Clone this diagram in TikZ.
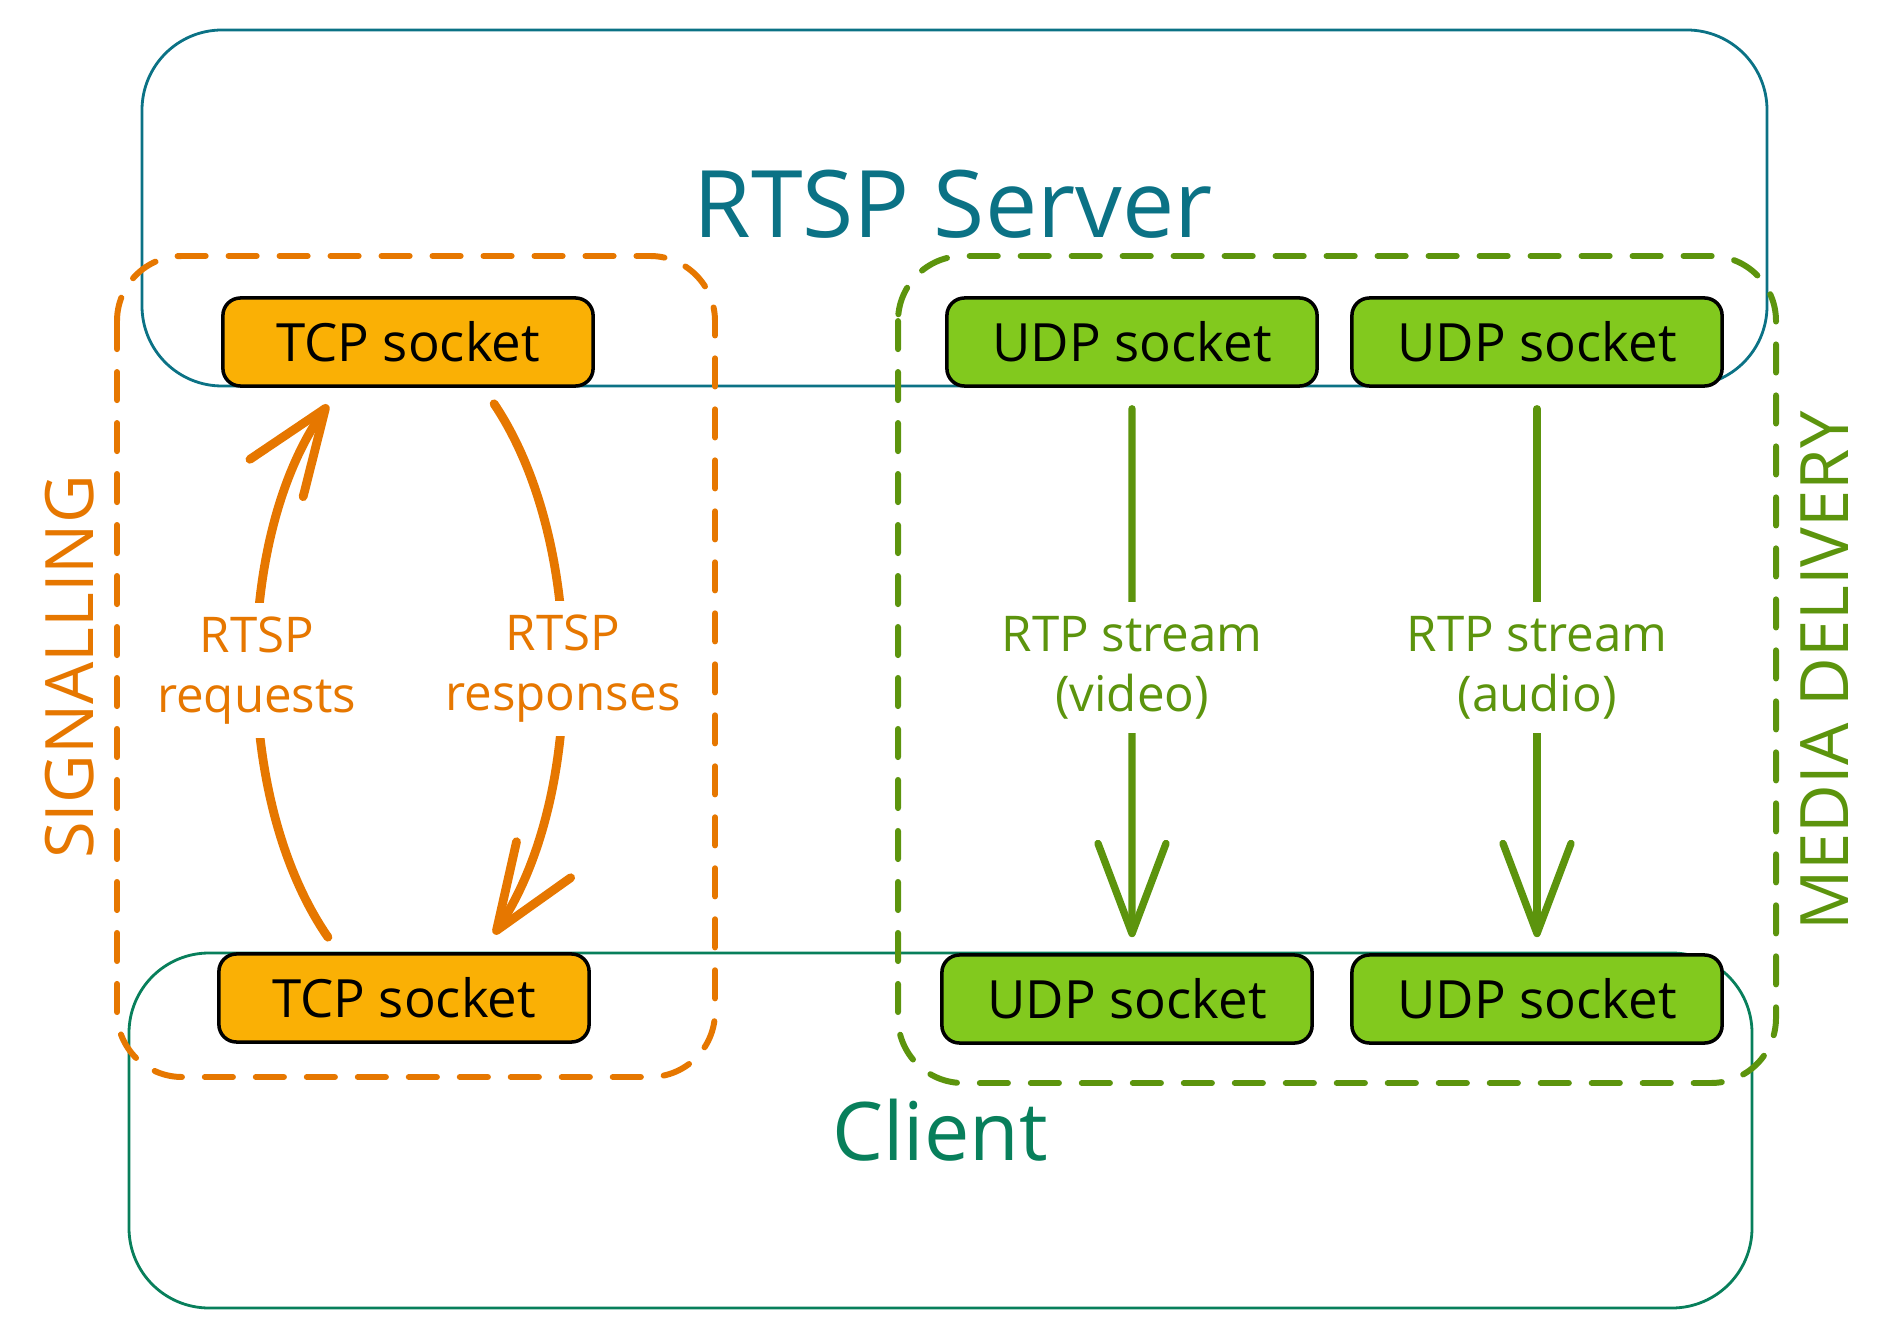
\documentclass[tikz,border=0pt]{standalone}
\usepackage{fontspec}
\setmainfont{Open Sans}
\usetikzlibrary{arrows.meta}

\definecolor{srvteal}{HTML}{0B7285}
\definecolor{cligreen}{HTML}{087F5B}
\definecolor{sigorange}{HTML}{E67700}
\definecolor{medgreen}{HTML}{5C940D}
\definecolor{tcpfill}{HTML}{FAB005}
\definecolor{udpfill}{HTML}{82C91E}

\tikzset{
  host/.style={line width=0.8pt, rounded corners=0.8cm},
  zone/.style={line width=1.7pt, dash pattern=on 8pt off 6.5pt, line cap=round, rounded corners=0.65cm},
  sock/.style={draw=black, line width=1pt, rounded corners=5pt, minimum width=3.7cm, minimum height=0.88cm, font=\fontsize{15}{18}\selectfont},
  tcpsock/.style={sock, fill=tcpfill},
  udpsock/.style={sock, fill=udpfill},
  flowlbl/.style={fill=white, align=center, inner sep=4pt, font=\fontsize{14}{17}\selectfont},
  sigflow/.style={draw=sigorange, line width=2.5pt, line cap=round, -{Straight Barb[length=8.5mm,width=6.5mm,round]}},
  mediaflow/.style={draw=medgreen, line width=2.1pt, line cap=round, -{Straight Barb[length=9mm,width=6.8mm,round]}},
}

\begin{document}
\begin{tikzpicture}[x=0.01cm, y=-0.01cm]
    \useasboundingbox (0,0) rectangle (1891,1337);

    % 服务器与客户端的外框
    \draw[host, srvteal] (142,30) rectangle (1767,386);
    \draw[host, cligreen] (129,953) rectangle (1752,1308);
    \node[srvteal, anchor=base, font=\fontsize{26.5}{32}\selectfont] (srvlbl) at (953,238) {RTSP Server};
    \node[cligreen, anchor=base, font=\fontsize{23}{28}\selectfont] (clilbl) at (940,1160) {Client};

    % 两个虚线分组
    \draw[zone, sigorange] (117,256) rectangle (715,1077);
    \draw[zone, medgreen] (898,256) rectangle (1776,1083);
    \node[sigorange, rotate=90, font=\fontsize{19}{22}\selectfont] (siglbl) at (70,667) {SIGNALLING};
    \node[medgreen, rotate=90, font=\fontsize{19}{22}\selectfont] (medlbl) at (1825,671) {MEDIA DELIVERY};

    % 服务器端的socket
    \node[tcpsock] (tcpS) at (408,342) {TCP socket};
    \node[udpsock] (udpSv) at (1132,342) {UDP socket};
    \node[udpsock] (udpSa) at (1537,342) {UDP socket};

    % 客户端的socket
    \node[tcpsock] (tcpC) at (404,998) {TCP socket};
    \node[udpsock] (udpCv) at (1127,999) {UDP socket};
    \node[udpsock] (udpCa) at (1537,999) {UDP socket};

    % RTSP请求与响应
    \draw[sigflow] ([xshift=-0.76cm,yshift=0.15cm]tcpC.north) .. controls (233,800) and (233,540) .. ([xshift=-0.8cm,yshift=-0.17cm]tcpS.south)
        node[flowlbl, text=sigorange, pos=0.5] (reqlbl) {RTSP\\requests};
    \draw[sigflow] ([xshift=0.86cm,yshift=-0.16cm]tcpS.south) .. controls (586,541) and (586,796) .. ([xshift=0.9cm,yshift=0.18cm]tcpC.north)
        node[flowlbl, text=sigorange, pos=0.5] (resplbl) {RTSP\\responses};

    % RTP媒体流
    \draw[mediaflow] ([yshift=-0.21cm]udpSv.south) -- ([xshift=0.05cm,yshift=0.16cm]udpCv.north)
        node[flowlbl, text=medgreen, pos=0.49] (vidlbl) {RTP stream\\(video)};
    \draw[mediaflow] ([yshift=-0.21cm]udpSa.south) -- ([yshift=0.16cm]udpCa.north)
        node[flowlbl, text=medgreen, pos=0.49] (audlbl) {RTP stream\\(audio)};
\end{tikzpicture}
\end{document}
